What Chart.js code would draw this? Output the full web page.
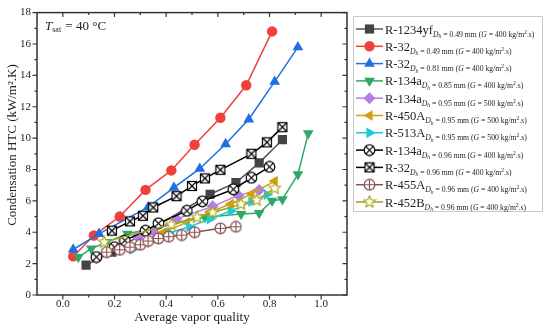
<!DOCTYPE html>
<html><head><meta charset="utf-8">
<script src="https://cdn.jsdelivr.net/npm/chart.js@4.4.1/dist/chart.umd.min.js"></script>
<style>html,body{margin:0;padding:0;background:#fff;}#wrap{width:550px;height:335px;position:relative;}</style>
</head><body><div id="wrap"><canvas id="c" width="550" height="335"></canvas></div>
<script>
// ---- data ----
const xTickLabels = [0.0, 0.2, 0.4, 0.6, 0.8, 1.0];
const yTickLabels = [0, 2, 4, 6, 8, 10, 12, 14, 16, 18];
const refrigerants = ['R-1234yf','R-32','R-32','R-134a','R-134a','R-450A','R-513A','R-134a','R-32','R-455A','R-452B'];
const diameters = ['0.49','0.49','0.81','0.85','0.95','0.95','0.95','0.96','0.96','0.96','0.96'];
const massFluxes = ['400','400','400','400','500','500','500','400','400','400','400'];

const r1234yf_049_x = [0.09,0.19,0.57,0.67,0.76,0.85];
const r1234yf_049_y = [1.9,2.73,6.42,7.16,8.42,9.9];
const r32_049_x = [0.04,0.12,0.22,0.32,0.42,0.51,0.61,0.71,0.81];
const r32_049_y = [2.46,3.79,5.0,6.7,7.94,9.58,11.3,13.37,16.8];
const r32_081_x = [0.04,0.14,0.33,0.43,0.53,0.63,0.72,0.82,0.91];
const r32_081_y = [2.9,3.9,5.6,6.85,8.05,9.62,11.2,13.6,15.8];
const r134a_085_x = [0.06,0.11,0.17,0.25,0.55,0.69,0.76,0.81,0.85,0.91,0.95];
const r134a_085_y = [2.42,2.95,3.37,3.9,4.95,5.16,5.22,6.0,6.1,7.69,10.3];
const r134a_095_x = [0.29,0.35,0.44,0.58,0.68,0.76];
const r134a_095_y = [3.7,4.05,4.85,5.65,6.35,6.7];
const r450a_095_x = [0.29,0.39,0.48,0.57,0.65,0.73,0.82];
const r450a_095_y = [3.2,4.0,4.63,5.3,5.8,6.45,7.26];
const r513a_095_x = [0.27,0.34,0.41,0.49,0.57,0.65,0.73,0.79];
const r513a_095_y = [2.9,3.4,3.95,4.35,4.85,5.35,5.95,6.4];
const r134a_096_x = [0.13,0.20,0.24,0.32,0.37,0.48,0.54,0.66,0.73,0.80];
const r134a_096_y = [2.42,3.05,3.47,4.1,4.57,5.37,5.97,6.74,7.47,8.17];
const r32_096_x = [0.19,0.26,0.31,0.35,0.44,0.50,0.55,0.61,0.73,0.79,0.85];
const r32_096_y = [4.1,4.69,5.05,5.58,6.3,6.95,7.43,7.98,9.0,9.73,10.7];
const r455a_096_x = [0.17,0.22,0.26,0.30,0.33,0.37,0.41,0.46,0.51,0.61,0.67];
const r455a_096_y = [2.73,2.88,3.05,3.2,3.44,3.6,3.72,3.82,4.0,4.25,4.35];
const r452b_096_x = [0.16,0.42,0.52,0.58,0.69,0.75,0.82];
const r452b_096_y = [3.37,4.5,4.95,5.26,5.79,6.05,6.8];

const seriesX = [r1234yf_049_x,r32_049_x,r32_081_x,r134a_085_x,r134a_095_x,r450a_095_x,r513a_095_x,r134a_096_x,r32_096_x,r455a_096_x,r452b_096_x];
const seriesY = [r1234yf_049_y,r32_049_y,r32_081_y,r134a_085_y,r134a_095_y,r450a_095_y,r513a_095_y,r134a_096_y,r32_096_y,r455a_096_y,r452b_096_y];

// ---- custom markers ----
function mk(size, draw){const c=document.createElement('canvas');c.width=size;c.height=size;const g=c.getContext('2d');draw(g,size/2);return c;}
const crossSquare = mk(12,(g,h)=>{g.fillStyle='#fff';g.fillRect(1.5,1.5,9,9);g.strokeStyle='#000';g.lineWidth=1.2;g.strokeRect(1.5,1.5,9,9);g.beginPath();g.moveTo(2,2);g.lineTo(10,10);g.moveTo(10,2);g.lineTo(2,10);g.stroke();});
const crossCircle = mk(13,(g,h)=>{g.fillStyle='#fff';g.beginPath();g.arc(h,h,5.3,0,Math.PI*2);g.fill();g.strokeStyle='#000';g.lineWidth=1.2;g.stroke();const d=3.6;g.beginPath();g.moveTo(h-d,h-d);g.lineTo(h+d,h+d);g.moveTo(h+d,h-d);g.lineTo(h-d,h+d);g.stroke();});
const plusCircle = mk(13,(g,h)=>{g.fillStyle='#fff';g.beginPath();g.arc(h,h,5.3,0,Math.PI*2);g.fill();g.strokeStyle='#8a5050';g.lineWidth=1.2;g.stroke();g.beginPath();g.moveTo(h-5.3,h);g.lineTo(h+5.3,h);g.moveTo(h,h-5.3);g.lineTo(h,h+5.3);g.stroke();});
const starMark = mk(14,(g,h)=>{g.beginPath();for(let i=0;i<10;i++){const r=i%2?2.8:6.2;const a=-Math.PI/2+i*Math.PI/5;g.lineTo(h+r*Math.cos(a),h+r*Math.sin(a));}g.closePath();g.fillStyle='#fffde8';g.fill();g.strokeStyle='#a3a21c';g.lineWidth=1.1;g.stroke();});

const lineColors = ['#555555','#f0403c','#1f6fe0','#2fa866','#b07ee6','#d4a010','#1fcad8','#000000','#000000','#8a5050','#a3a21c'];
const markColors = ['#444444','#f0403c','#1f6fe0','#2fa866','#b07ee6','#d4a010','#1fcad8','#000000','#000000','#8a5050','#a3a21c'];
const pStyles = ['rect','circle','triangle','triangle','rectRot','triangle','triangle',crossCircle,crossSquare,plusCircle,starMark];
const pRot = [0,0,0,180,0,-90,90,0,0,0,0];
const pRad = [6.5,5.2,6.2,6.2,6,6.2,6.2,6,6,6,6];

const datasets = seriesX.map((xs,i)=>({
  label: refrigerants[i],
  data: xs.map((x,j)=>({x:x,y:seriesY[i][j]})),
  showLine:true,
  borderColor: lineColors[i], borderWidth:1.5,
  backgroundColor: markColors[i], pointBorderColor: markColors[i], pointBorderWidth:0,
  pointStyle: pStyles[i], pointRotation: pRot[i], pointRadius: pRad[i],
  order: 20 - i
}));

const SERIF = '"Liberation Serif", "Times New Roman", serif';

const decorPlugin = {
  id:'decor',
  afterDraw(chart){
    const {ctx, chartArea:a, scales:{x,y}} = chart;
    ctx.save();
    // frame
    ctx.strokeStyle='#333'; ctx.lineWidth=1.5;
    ctx.strokeRect(a.left, a.top, a.right-a.left, a.bottom-a.top);
    ctx.lineWidth=1.2;
    ctx.beginPath();
    xTickLabels.forEach((v,i)=>{
      const px=x.getPixelForValue(v);
      ctx.moveTo(px,a.bottom);ctx.lineTo(px,a.bottom+4.5);
      ctx.moveTo(px,a.top);ctx.lineTo(px,a.top+4.5);
      if(i<xTickLabels.length-1){const m=x.getPixelForValue((v+xTickLabels[i+1])/2);
        ctx.moveTo(m,a.bottom);ctx.lineTo(m,a.bottom+2.5);
        ctx.moveTo(m,a.top);ctx.lineTo(m,a.top+2.5);}
    });
    yTickLabels.forEach((v,i)=>{
      const py=y.getPixelForValue(v);
      ctx.moveTo(a.left,py);ctx.lineTo(a.left-4.5,py);
      ctx.moveTo(a.right,py);ctx.lineTo(a.right-4.5,py);
      if(i<yTickLabels.length-1){const m=y.getPixelForValue((v+yTickLabels[i+1])/2);
        ctx.moveTo(a.left,m);ctx.lineTo(a.left-2.5,m);
        ctx.moveTo(a.right,m);ctx.lineTo(a.right-2.5,m);}
    });
    ctx.stroke();

    // axis titles
    ctx.fillStyle='#222';
    ctx.font='13px '+SERIF; ctx.textAlign='center'; ctx.textBaseline='middle';
    ctx.fillText('Average vapor quality',(a.left+a.right)/2,318);
    ctx.save(); ctx.translate(13,145); ctx.rotate(-Math.PI/2);
    ctx.fillText('Condensation HTC (kW/m\u00B2.K)',0,0); ctx.restore();

    // T_sat annotation
    ctx.textAlign='left'; ctx.textBaseline='alphabetic';
    let tx=45, ty=30;
    ctx.font='italic 13px '+SERIF; ctx.fillText('T',tx,ty); tx+=ctx.measureText('T').width;
    ctx.font='8px '+SERIF; ctx.fillText('sat',tx,ty+2); tx+=ctx.measureText('sat').width+1;
    ctx.font='13px '+SERIF; ctx.fillText(' = 40 \u00B0C',tx,ty);

    // legend
    const bx=353.5, by=16.5, bw=189, bh=195;
    ctx.fillStyle='#fff'; ctx.fillRect(bx,by,bw,bh);
    ctx.strokeStyle='#c8c8c8'; ctx.lineWidth=1; ctx.strokeRect(bx,by,bw,bh);
    chart.data.datasets.forEach((ds,i)=>{
      const cy = 29 + i*17.3;
      ctx.strokeStyle=ds.borderColor; ctx.lineWidth=1.5;
      ctx.beginPath(); ctx.moveTo(356,cy); ctx.lineTo(383,cy); ctx.stroke();
      ctx.fillStyle=ds.backgroundColor; ctx.strokeStyle=ds.pointBorderColor;
      Chart.helpers.drawPoint(ctx,{pointStyle:ds.pointStyle,rotation:ds.pointRotation,radius:ds.pointRadius,borderWidth:0},369.5,cy);
      ctx.fillStyle='#222';
      let lx=385;
      ctx.font='12.5px '+SERIF; ctx.fillText(refrigerants[i],lx,cy+4.5); lx+=ctx.measureText(refrigerants[i]).width;
      const sb=cy+7.5;
      const parts=[
        ['italic 7.7px ','D',0],['italic 5.5px ','h',1.5],['7.7px ',' = '+diameters[i]+' mm (',0],
        ['italic 7.7px ','G',0],['7.7px ',' = '+massFluxes[i]+' kg/m',0],['5.5px ','2',-3],['7.7px ','.s)',0]
      ];
      parts.forEach(p=>{ctx.font=p[0]+SERIF; ctx.fillText(p[1],lx,sb+p[2]); lx+=ctx.measureText(p[1]).width;});
    });
    ctx.restore();
  }
};

new Chart(document.getElementById('c'),{
  type:'scatter',
  data:{datasets},
  options:{
    responsive:false, animation:false, devicePixelRatio:1,
    layout:{padding:{left:0,top:10,right:203,bottom:0}},
    plugins:{legend:{display:false},tooltip:{enabled:false}},
    scales:{
      x:{type:'linear',min:-0.1,max:1.1,
        afterBuildTicks:(s)=>{s.ticks=xTickLabels.map(v=>({value:v}));},
        afterFit:(s)=>{s.height=40;},
        grid:{display:false,drawTicks:false}, border:{display:false},
        ticks:{padding:3,color:'#222',font:{family:SERIF,size:11},callback:(v)=>Number(v).toFixed(1),maxRotation:0,autoSkip:false}},
      y:{type:'linear',min:0,max:18,
        afterBuildTicks:(s)=>{s.ticks=yTickLabels.map(v=>({value:v}));},
        afterFit:(s)=>{s.width=37;},
        grid:{display:false,drawTicks:false}, border:{display:false},
        ticks:{padding:6,color:'#222',font:{family:SERIF,size:11},autoSkip:false}}
    }
  },
  plugins:[decorPlugin]
});
</script></body></html>
